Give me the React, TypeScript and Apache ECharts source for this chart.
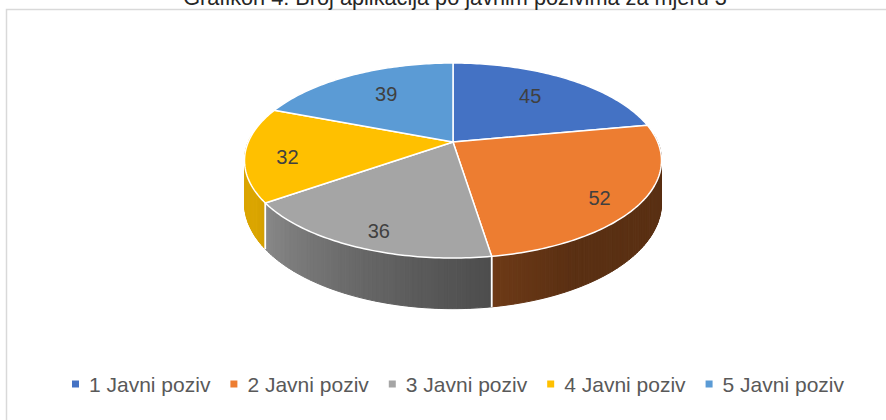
import React, { useEffect, useRef } from "react";
import * as echarts from "echarts";

const titleText = "Grafikon 4: Broj aplikacija po javnim pozivima za mjeru 3";
const categories = ["1 Javni poziv", "2 Javni poziv", "3 Javni poziv", "4 Javni poziv", "5 Javni poziv"];
const values = [45, 52, 36, 32, 39];
const colors = ["#4472C4", "#ED7D31", "#A5A5A5", "#FFC000", "#5B9BD5"];

const FONT = "'Liberation Sans', Arial, sans-serif";

// 3D pie projection parameters
const CX = 453;
const CY = 142;
const RX = 204.7;
const RY = 94;
const K = 0.19;
const DEPTH = 41;

function proj(theta: number, r: number) {
  const u = Math.sin(theta) * r;
  const v = -Math.cos(theta) * r;
  const d = 1 - K * v;
  return { x: CX + (RX * u) / d, y: CY + (RY * v) / d, d, v, u };
}

function shade(hex: string, f: number) {
  const n = parseInt(hex.slice(1), 16);
  const r = Math.round(((n >> 16) & 255) * f);
  const g = Math.round(((n >> 8) & 255) * f);
  const b = Math.round((n & 255) * f);
  return `rgb(${r},${g},${b})`;
}

function shadeFactor(thetaDeg: number) {
  const t = Math.min(1, Math.max(0, (thetaDeg - 150) / 90));
  return 0.38 + 0.48 * Math.pow(t, 1.2);
}

function renderItem(params: any, api: any) {
  const i = params.dataIndex;
  const total = values.reduce((a, b) => a + b, 0);
  let start = 0;
  for (let j = 0; j < i; j++) start += values[j];
  const val = api.value(0);
  const a0 = (start / total) * Math.PI * 2;
  const a1 = ((start + val) / total) * Math.PI * 2;
  const n = Math.max(2, Math.ceil((a1 - a0) / (Math.PI / 180)));
  const children: any[] = [];
  const color = colors[i];

  // outer wall (front facing part)
  for (let s = 0; s < n; s++) {
    const t0 = a0 + ((a1 - a0) * s) / n;
    const t1 = a0 + ((a1 - a0) * (s + 1)) / n;
    const tm = (t0 + t1) / 2;
    const vm = -Math.cos(tm);
    if (vm < -0.08) continue;
    const p0 = proj(t0, 1);
    const p1 = proj(t1, 1);
    const c = shade(color, shadeFactor((tm * 180) / Math.PI));
    children.push({
      type: "polygon",
      z2: 1 + vm,
      shape: {
        points: [
          [p0.x, p0.y],
          [p1.x, p1.y],
          [p1.x, p1.y + DEPTH / p1.d],
          [p0.x, p0.y + DEPTH / p0.d],
        ],
      },
      style: { fill: c, stroke: c, lineWidth: 1 },
    });
  }
  // white separator lines on wall
  [a0, a1].forEach((a) => {
    const p = proj(a, 1);
    if (p.v >= 0) {
      children.push({
        type: "line",
        z2: 5,
        shape: { x1: p.x, y1: p.y, x2: p.x, y2: p.y + DEPTH / p.d },
        style: { stroke: "#ffffff", lineWidth: 1.5 },
      });
    }
  });

  // top face
  const pts: number[][] = [[CX, CY]];
  for (let s = 0; s <= n; s++) {
    const t = a0 + ((a1 - a0) * s) / n;
    const p = proj(t, 1);
    pts.push([p.x, p.y]);
  }
  children.push({
    type: "polygon",
    z2: 10,
    shape: { points: pts },
    style: { fill: color, stroke: "#ffffff", lineWidth: 1.5, lineJoin: "round" },
  });

  // data label: nearer slices get labels further out and slightly lower
  const am = (a0 + a1) / 2;
  const vMid = -Math.cos(am);
  const lr = 0.8 - 0.2 * Math.max(0, -vMid);
  const lp = proj(am, lr);
  const shift = 2.5 + 6 * Math.tanh(4 * vMid);
  children.push({
    type: "text",
    z2: 20,
    x: lp.x,
    y: lp.y + shift,
    style: {
      text: String(val),
      align: "center",
      verticalAlign: "middle",
      fill: "#404040",
      fontSize: 20,
      fontFamily: FONT,
    },
  });

  return { type: "group", children };
}

export default function App() {
  const ref = useRef<HTMLDivElement>(null);
  useEffect(() => {
    if (!ref.current) return;
    const chart = echarts.init(ref.current, null, { renderer: "svg" });
    chart.setOption({
      animation: false,
      backgroundColor: "#ffffff",
      graphic: [
        {
          type: "rect",
          shape: { x: 6.5, y: 9.5, width: 900, height: 430 },
          style: { fill: "none", stroke: "#d9d9d9", lineWidth: 1.5 },
          silent: true,
        },
        {
          type: "text",
          x: 455,
          y: -2.5,
          style: {
            text: titleText,
            align: "center",
            verticalAlign: "middle",
            fill: "#262626",
            fontSize: 21.7,
            fontFamily: FONT,
          },
          silent: true,
        },
      ],
      legend: {
        data: categories,
        left: 72,
        top: 373.5,
        padding: 0,
        icon: "rect",
        itemWidth: 7,
        itemHeight: 7,
        itemGap: 20,
        selectedMode: false,
        textStyle: { fontSize: 21, color: "#595959", fontFamily: FONT, padding: [0, 0, 0, 5] },
      },
      series: [
        {
          type: "custom",
          coordinateSystem: "none",
          silent: true,
          data: values,
          renderItem,
        },
        {
          type: "pie",
          radius: 0,
          center: [-100, -100],
          silent: true,
          label: { show: false },
          labelLine: { show: false },
          data: categories.map((name, i) => ({ name, value: values[i], itemStyle: { color: colors[i] } })),
        },
      ],
    });
    return () => chart.dispose();
  }, []);
  return (
    <div
      ref={ref}
      style={{ position: "fixed", left: 0, top: 0, width: 886, height: 420, background: "#fff" }}
    />
  );
}
